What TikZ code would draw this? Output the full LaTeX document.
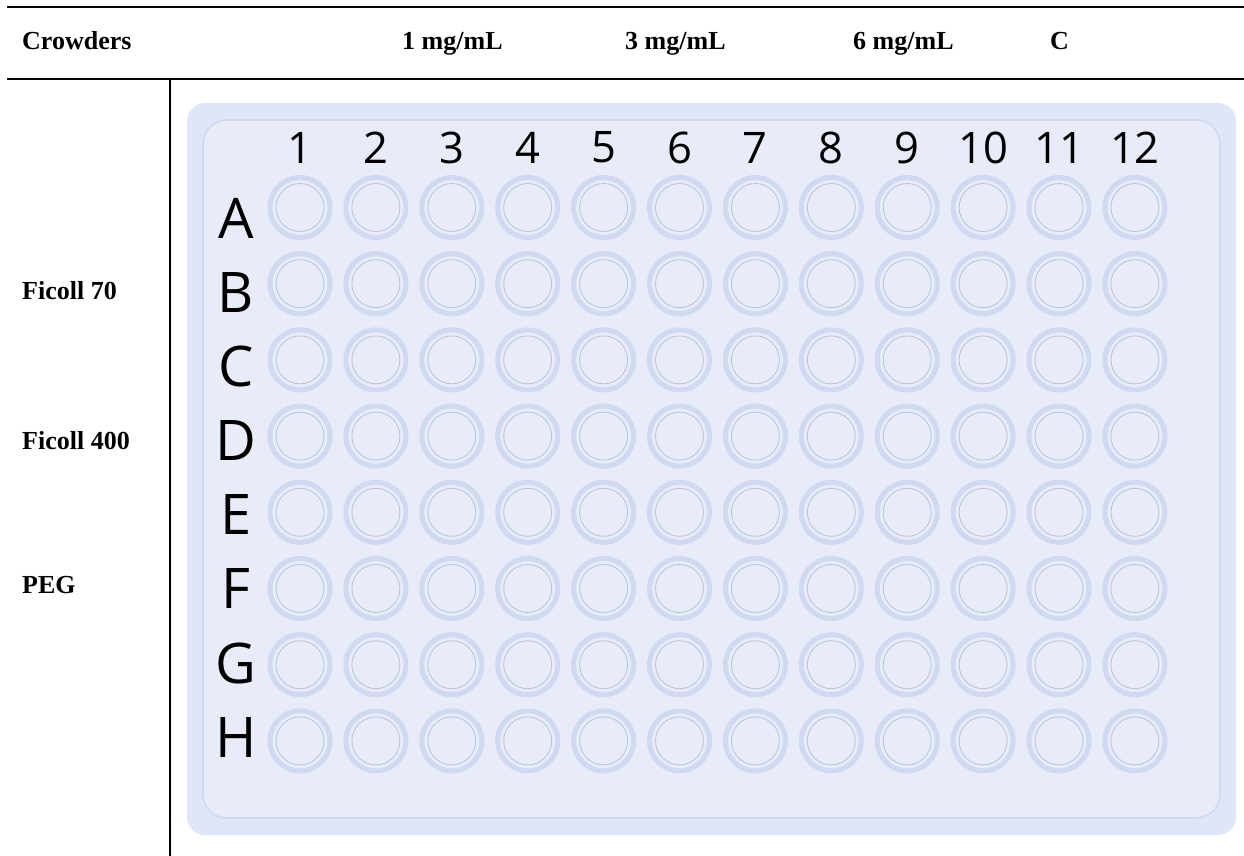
\documentclass[tikz,border=0pt]{standalone}
\usepackage{fontspec}
\setmainfont{Liberation Serif}
\newfontfamily\platefont{Open Sans}
\usepackage{xcolor}
\usepackage{tikz}
\usetikzlibrary{positioning}

\definecolor{plateout}{RGB}{222,230,247}
\definecolor{platein}{RGB}{232,236,248}
\definecolor{plateedge}{RGB}{208,217,238}
\definecolor{wellring}{RGB}{207,217,240}
\definecolor{wellline}{RGB}{184,193,218}

\begin{document}
\begin{tikzpicture}[
  x=1pt, y=-1pt,
  hdr/.style={font=\bfseries\fontsize{26}{30}\selectfont, anchor=base west, inner sep=0pt},
  rule/.style={line width=2pt},
  colnum/.style={font=\platefont\fontsize{43.5}{50}\selectfont, inner sep=0pt},
  rowlab/.style={font=\platefont\fontsize{56}{60}\selectfont, inner sep=0pt},
  wellout/.style={circle, draw=wellring, line width=5pt, fill=platein, minimum size=60pt, inner sep=0pt},
  wellin/.style={circle, draw=wellline, line width=0.8pt, minimum size=48pt, inner sep=0pt}
]
\useasboundingbox (0,0) rectangle (1244,856);

% table rules
\draw[rule] (7,7.5) -- (1244,7.5);
\draw[rule] (7,79.5) -- (1244,79.5);
\draw[rule] (170,79.5) -- (170,856);

% header row
\node[hdr] (crowders) at (22,50) {Crowders};
\node[hdr] (c1) at (402,50) {1 mg/mL};
\node[hdr] (c3) at (625,50) {3 mg/mL};
\node[hdr] (c6) at (853,50) {6 mg/mL};
\node[hdr] (cc) at (1050,50) {C};

% crowder names
\node[hdr] (ficoll70) at (22,299) {Ficoll 70};
\node[hdr] (ficoll400) at (22,449) {Ficoll 400};
\node[hdr] (peg) at (22,593) {PEG};

% plate body
\fill[plateout, rounded corners=18pt] (187,103) rectangle (1236,835);
\draw[plateedge, fill=platein, line width=1.6pt, rounded corners=24pt] (203,120) rectangle (1220,818);

% column numbers
\foreach \c in {1,...,12}
  \node[colnum] (col\c) at ({300+75.9*(\c-1)},147.5) {\c};

% row letters and wells
\foreach \r [count=\i from 0] in {A,B,C,D,E,F,G,H} {
  \node[rowlab] (row\r) at (236,{218+74.2*\i}) {\r};
  \foreach \c in {1,...,12} {
    \node[wellout] (well\r\c) at ({300+75.9*(\c-1)},{207.5+76.2*\i}) {};
    \node[wellin] at (well\r\c) {};
  }
}
\end{tikzpicture}
\end{document}
